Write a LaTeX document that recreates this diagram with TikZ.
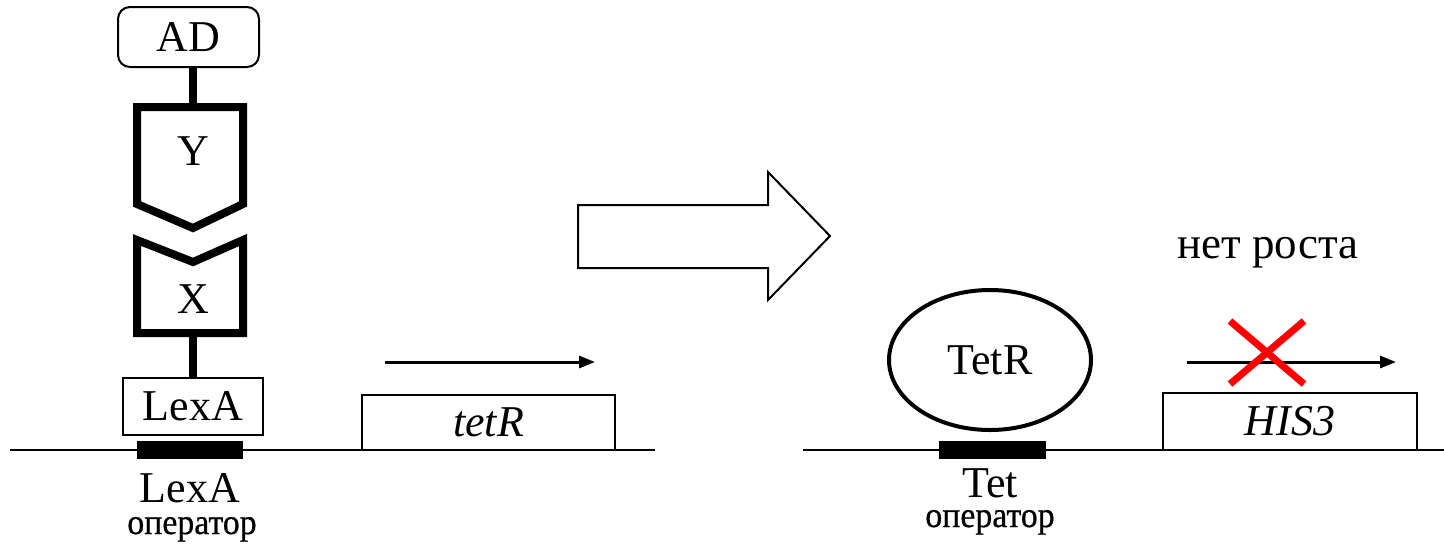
\documentclass[tikz,border=0pt]{standalone}
\usepackage{fontspec}
\setmainfont{Liberation Serif}
\newfontfamily\opfont[FakeStretch=0.94,FakeBold=0.6]{Liberation Serif}
\usetikzlibrary{arrows.meta,shapes.geometric}
\begin{document}
\begin{tikzpicture}[x=0.5pt,y=-0.5pt,
  thin line/.style={line width=1pt},
  thick part/.style={line width=4pt, line join=miter},
  stem/.style={line width=4pt},
  lbl/.style={font=\fontsize{22}{26}\selectfont, inner sep=0pt},
  sublbl/.style={font=\opfont\fontsize{18}{20}\selectfont, inner sep=0pt},
  box/.style={draw, line width=1pt, inner sep=0pt, font=\fontsize{22}{26}\selectfont},
  operatorbar/.style={fill=black, draw=none},
  txarrow/.style={line width=1.5pt, -{Triangle[length=8pt,width=6pt]}},
  redx/.style={red, line width=3.5pt}
]
\useasboundingbox (0,0) rectangle (1444,543);
% ---------- left part ----------
\draw[thin line] (10,450) -- (655,450);
\fill[operatorbar] (137,441) rectangle (243,459);
\node[box, minimum width=70pt, minimum height=28.5pt] (lexa) at (193,406.5) {LexA};
\node[box, minimum width=126.5pt, minimum height=27.5pt] (tetr) at (488.5,422.5) {\itshape tetR};
\coordinate (a1s) at (385,362);
\coordinate (a1e) at (595,362);
\draw[txarrow] (a1s) -- (a1e);
\node[lbl, anchor=base] (lexaop) at (190,502) {LexA};
\node[sublbl, anchor=base] (op1) at (192,534) {оператор};
% X domain
\coordinate (xtop) at (193,262);
\coordinate (xbot) at (193,333);
\draw[thick part] (137,240) -- (xtop) -- (243,240) -- (243,333) -- (137,333) -- cycle;
\node[lbl, anchor=base] (xl) at (193,313) {X};
% Y domain
\coordinate (ytop) at (193,107);
\draw[thick part] (137,107) -- (243,107) -- (243,204) -- (193,228) -- (137,204) -- cycle;
\node[lbl, anchor=base] (yl) at (193,165) {Y};
% AD
\node[box, rounded corners=6pt, minimum width=70.5pt, minimum height=30pt] (ad) at (188.5,37) {AD};
\draw[stem] (ytop |- ad.south) -- (ytop);
\draw[stem] (xbot) -- (xbot |- lexa.north);
% ---------- big arrow ----------
\draw[line width=1pt, line join=miter] (578,205) -- (768,205) -- (768,172) -- (830,236) -- (768,300) -- (768,268) -- (578,268) -- cycle;
% ---------- right part ----------
\draw[thin line] (803,450) -- (1444,450);
\fill[operatorbar] (939,441) rectangle (1046,459);
\node[draw, ellipse, line width=2pt, minimum width=101pt, minimum height=70pt, inner sep=0pt, font=\fontsize{22}{26}\selectfont] (tetrp) at (990,360) {TetR};
\node[box, minimum width=127pt, minimum height=28.5pt] (his) at (1290,421.5) {\itshape HIS3};
\coordinate (a2s) at (1187,362);
\coordinate (a2e) at (1396,362);
\draw[txarrow] (a2s) -- (a2e);
\coordinate (x1) at (1230,321);
\coordinate (x2) at (1304,384);
\coordinate (x3) at (1304,321);
\coordinate (x4) at (1230,384);
\draw[redx] (x1) -- (x2);
\draw[redx] (x3) -- (x4);
\node[font=\fontsize{22.5}{27}\selectfont, inner sep=0pt, anchor=base] (growth) at (1268,258) {нет роста};
\node[lbl, anchor=base] (tetop) at (990,497) {Tet};
\node[sublbl, anchor=base] (op2) at (990,527) {оператор};
\end{tikzpicture}
\end{document}
